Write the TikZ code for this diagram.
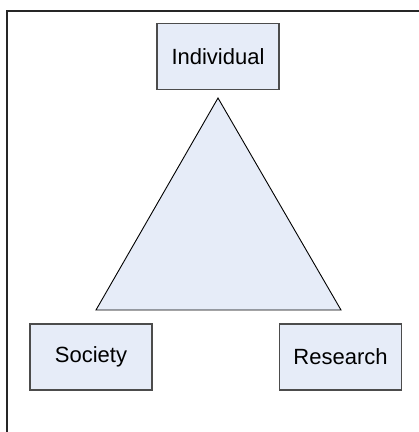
\documentclass[tikz,border=0pt]{standalone}
\usepackage{fontspec}
\setmainfont{Liberation Sans}
\usetikzlibrary{positioning}
\definecolor{boxfill}{RGB}{230,236,248}

\begin{document}
\begin{tikzpicture}[x=1pt,y=-1pt,
    block/.style={draw=black!70,fill=boxfill,line width=1.2pt,
      minimum width=122pt,minimum height=66pt,inner sep=0pt,
      font=\fontsize{22}{26}\selectfont}]
    \useasboundingbox (0,0) rectangle (419,432);
    % frame
    \draw[line width=2pt,black!85] (7,432) -- (7,11) -- (419,11);
    \node[block] (indiv) at (218,56.5) {Individual};
    \node[block] (soc)   at (91,357)   {Society};
    \node[block] (res)   at (340.5,357) {Research};
    % triangle
    \coordinate (apex)  at (218,98);
    \coordinate (left)  at (96,310);
    \coordinate (right) at (341,310);
    \draw[fill=boxfill,line width=0.9pt] (apex) -- (left) -- (right) -- cycle;
  \end{tikzpicture}
\end{document}
